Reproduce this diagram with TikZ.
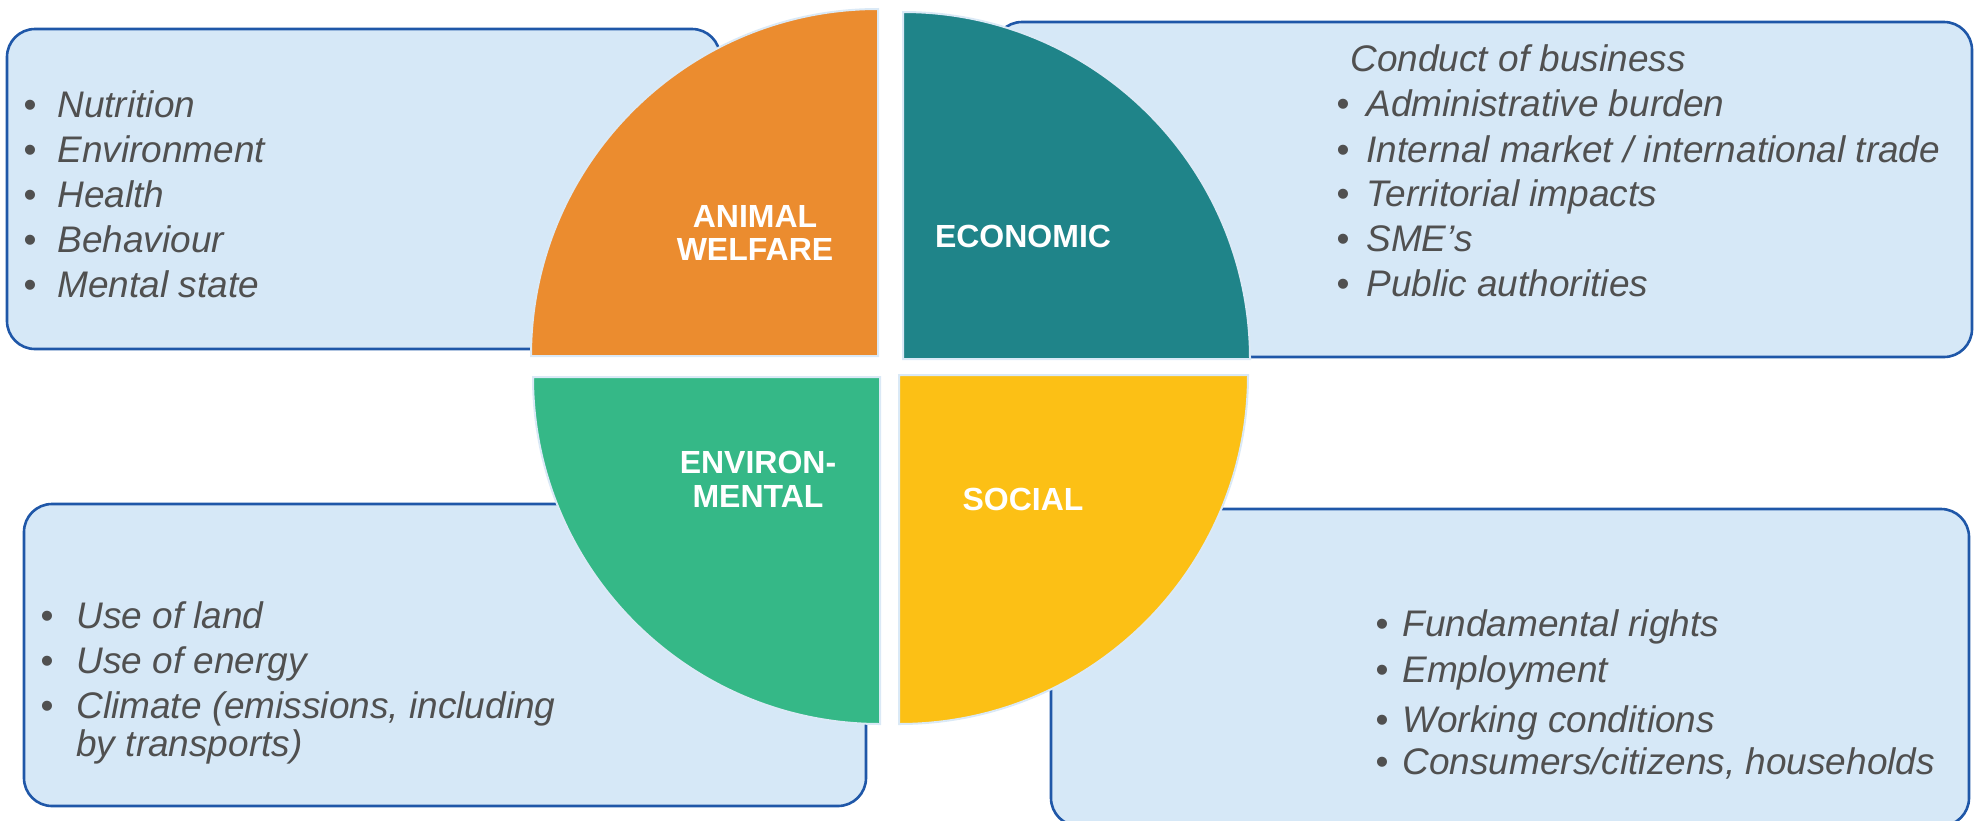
\documentclass[tikz,border=0pt]{standalone}
\usepackage{fontspec}
\setmainfont{Liberation Sans}
\definecolor{boxfill}{HTML}{D6E8F7}
\definecolor{boxline}{HTML}{1F57A8}
\definecolor{qline}{HTML}{DAE9F6}
\definecolor{qorange}{HTML}{EB8C2F}
\definecolor{qteal}{HTML}{1F8489}
\definecolor{qgreen}{HTML}{35B887}
\definecolor{qyellow}{HTML}{FCC015}
\definecolor{itemgray}{HTML}{505050}
\begin{document}
\begin{tikzpicture}[x=0.5pt,y=-0.5pt,
  infobox/.style={fill=boxfill,draw=boxline,line width=1.3pt,rounded corners=14pt},
  quad/.style={draw=qline,line width=1pt},
  item/.style={anchor=base west,inner sep=0pt,text=itemgray,font=\fontsize{18.5}{22}\selectfont\itshape},
  bul/.style={anchor=base,inner sep=0pt,text=itemgray,font=\fontsize{18.5}{22}\selectfont},
  qlabel/.style={anchor=base,inner sep=0pt,text=white,font=\fontsize{16}{16}\selectfont\bfseries}]
\useasboundingbox (0,0) rectangle (1982,820);
\clip (0,0) rectangle (1982,820);
% boxes
\path[infobox] (7,29) rectangle (720,349);
\path[infobox] (994,22) rectangle (1972,357);
\path[infobox] (24,504) rectangle (866,806);
\path[infobox] (1051,509) rectangle (1969,826);
% quadrants
\path[quad,fill=qorange] (878,356) -- (531,356) arc[start angle=180,end angle=270,radius=347] -- cycle;
\path[quad,fill=qteal] (903,359) -- (903,12) arc[start angle=270,end angle=360,radius=347] -- cycle;
\path[quad,fill=qgreen] (880,377) -- (533,377) arc[start angle=180,end angle=90,radius=347] -- cycle;
\path[quad,fill=qyellow] (899,375) -- (1248,375) arc[start angle=0,end angle=90,radius=349] -- cycle;
% labels
\node[qlabel] (aw1) at (755,227) {ANIMAL};
\node[qlabel] (aw2) at (755,260) {WELFARE};
\node[qlabel] (eco) at (1023,247) {ECONOMIC};
\node[qlabel] (env1) at (758,473) {ENVIRON-};
\node[qlabel] (env2) at (758,507) {MENTAL};
\node[qlabel] (soc) at (1023,510) {SOCIAL};
% top-left list
\foreach \t/\y [count=\i] in {{Nutrition}/117,{Environment}/162,{Health}/207,{Behaviour}/252,{Mental state}/297}{
  \node[bul] (tlb\i) at (30,\y) {•};
  \node[item] (tlt\i) at (57,\y) {\t};
}
% top-right list
\node[item] (conduct) at (1350,71) {Conduct of business};
\foreach \t/\y [count=\i] in {{Administrative burden}/116,{Internal market / international trade}/162,{Territorial impacts}/206,{SME’s}/251,{Public authorities}/296}{
  \node[bul] (trb\i) at (1343,\y) {•};
  \node[item] (trt\i) at (1366,\y) {\t};
}
% bottom-left list
\foreach \t/\y [count=\i] in {{Use of land}/628,{Use of energy}/673,{Climate (emissions, including}/718}{
  \node[bul] (blb\i) at (47,\y) {•};
  \node[item] (blt\i) at (76,\y) {\t};
}
\node[item] (blt4) at (76,756) {by transports)};
% bottom-right list
\foreach \t/\y [count=\i] in {{Fundamental rights}/636,{Employment}/682,{Working conditions}/732,{Consumers/citizens, households}/774}{
  \node[bul] (brb\i) at (1382,\y) {•};
  \node[item] (brt\i) at (1402,\y) {\t};
}
\end{tikzpicture}
\end{document}
